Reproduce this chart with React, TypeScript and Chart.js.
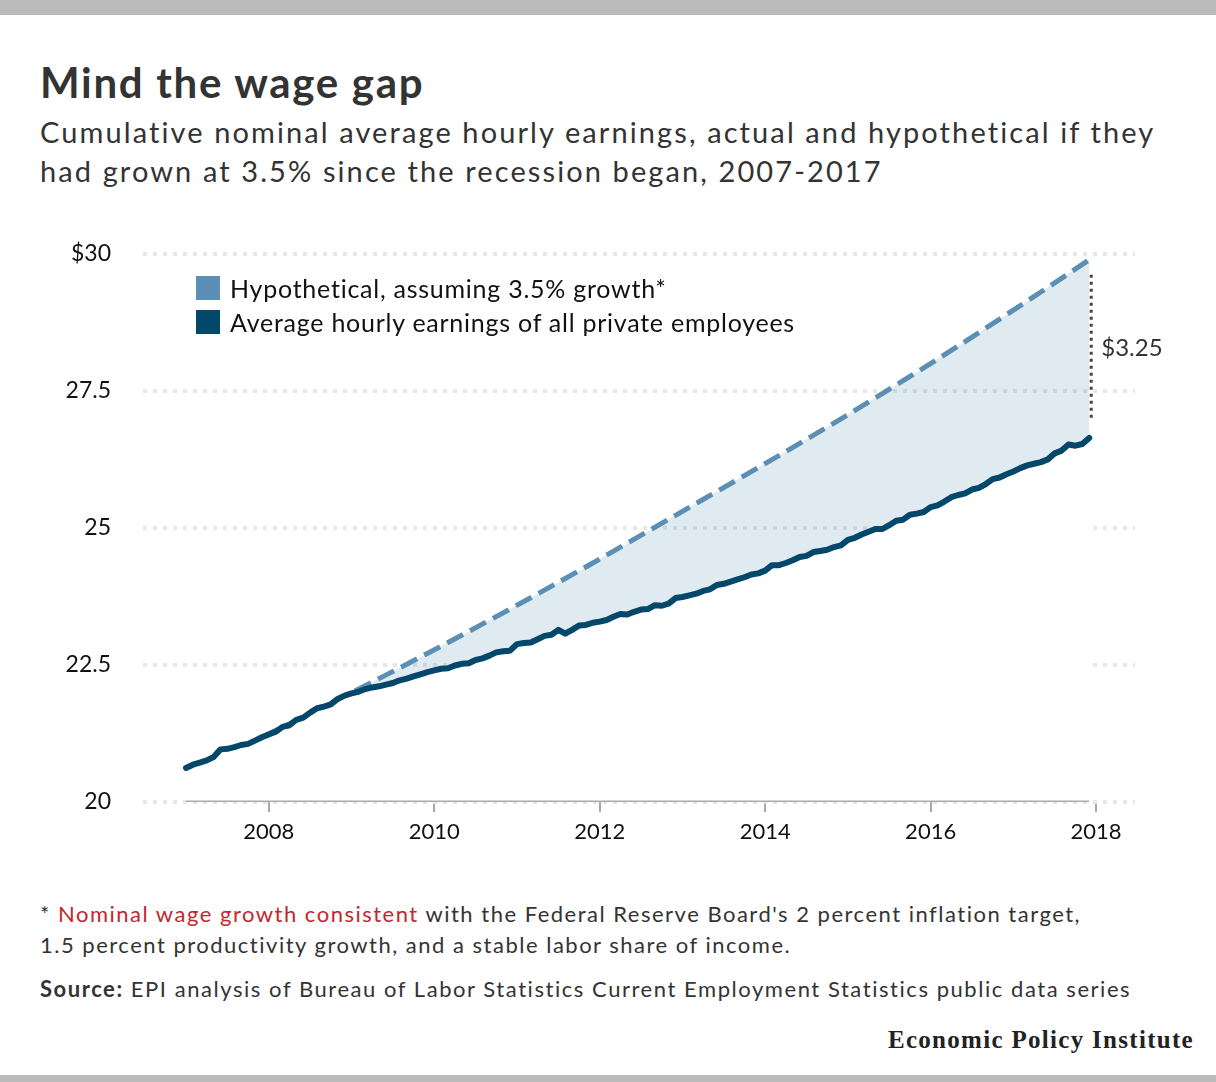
import { useEffect, useRef } from 'react';
import { Chart, registerables } from 'chart.js';

Chart.register(...registerables);

// monthly average hourly earnings, all private employees, Jan 2007 - Dec 2017
const FIRST_YEAR = 2007;
const ACTUAL = [
  20.62, 20.68, 20.72, 20.76, 20.82, 20.96, 20.97, 21.0, 21.04, 21.06, 21.12, 21.18,
  21.23, 21.28, 21.37, 21.4, 21.5, 21.54, 21.63, 21.71, 21.74, 21.78, 21.88, 21.94,
  21.98, 22.01, 22.06, 22.09, 22.11, 22.14, 22.17, 22.22, 22.25, 22.29, 22.33, 22.37,
  22.4, 22.43, 22.44, 22.49, 22.52, 22.53, 22.59, 22.62, 22.67, 22.73, 22.75, 22.76,
  22.88, 22.9, 22.91, 22.97, 23.03, 23.05, 23.14, 23.07, 23.14, 23.22, 23.23, 23.27,
  23.29, 23.32, 23.38, 23.43, 23.42, 23.47, 23.51, 23.52, 23.59, 23.58, 23.62, 23.72,
  23.74, 23.77, 23.8, 23.85, 23.88, 23.96, 23.98, 24.02, 24.06, 24.1, 24.15, 24.17,
  24.22, 24.32, 24.32, 24.36, 24.41, 24.47, 24.49, 24.56, 24.58, 24.6, 24.65, 24.68,
  24.78, 24.82, 24.88, 24.93, 24.98, 24.98, 25.05, 25.13, 25.15, 25.24, 25.26, 25.29,
  25.38, 25.41, 25.48, 25.56, 25.6, 25.63, 25.7, 25.73, 25.8, 25.89, 25.92, 25.98,
  26.03, 26.09, 26.14, 26.17, 26.2, 26.25, 26.36, 26.41, 26.52, 26.5, 26.53, 26.64,
];

// hypothetical 3.5% path, read at each December
const HYPO_YEARS = [2007, 2008, 2009, 2010, 2011, 2012, 2013, 2014, 2015, 2016, 2017];
const HYPOTHETICAL = [21.18, 21.93, 22.71, 23.52, 24.36, 25.23, 26.1, 26.99, 27.92, 28.89, 29.89];

const X_TICKS = [2008, 2010, 2012, 2014, 2016, 2018];
const Y_TICKS = [20, 22.5, 25, 27.5, 30];
const GAP_LABEL = '$3.25';

const FONT = 'Lato, "Noto Sans", sans-serif';
const DARK = '#03476a';
const LIGHT = '#5b8fb6';

const gapPlugin = {
  id: 'gap',
  afterDatasetsDraw(chart: any) {
    const { ctx, scales } = chart;
    const last = ACTUAL.length - 1;
    const x = scales.x.getPixelForValue(FIRST_YEAR + last / 12);
    const yTop = scales.y.getPixelForValue(HYPOTHETICAL[HYPOTHETICAL.length - 1]) + 15;
    const yBot = scales.y.getPixelForValue(ACTUAL[last]) - 17;
    ctx.save();
    ctx.strokeStyle = '#444';
    ctx.lineWidth = 3;
    ctx.setLineDash([3, 4]);
    ctx.beginPath();
    ctx.moveTo(x + 2, yTop);
    ctx.lineTo(x + 2, yBot);
    ctx.stroke();
    ctx.setLineDash([]);
    ctx.fillStyle = '#333';
    ctx.font = `24px ${FONT}`;
    ctx.textBaseline = 'middle';
    ctx.fillText(GAP_LABEL, x + 12, (yTop + yBot) / 2);
    ctx.restore();
  },
};

function WageChart() {
  const canvasRef = useRef<HTMLCanvasElement>(null);
  const chartRef = useRef<Chart | null>(null);

  useEffect(() => {
    const ctx = canvasRef.current!.getContext('2d');
    if (chartRef.current) chartRef.current.destroy();
    const lastX = FIRST_YEAR + (ACTUAL.length - 1) / 12;
    chartRef.current = new Chart(ctx!, {
      type: 'line',
      data: {
        datasets: [
          {
            label: 'Average hourly earnings of all private employees',
            data: ACTUAL.map((y, i) => ({ x: FIRST_YEAR + i / 12, y })),
            borderColor: DARK,
            borderWidth: 6,
            borderCapStyle: 'round',
            borderJoinStyle: 'round',
            pointRadius: 0,
            fill: 'start',
            backgroundColor: '#ffffff',
          },
          {
            label: 'Hypothetical, assuming 3.5% growth*',
            data: HYPO_YEARS.map((yr, i) => ({ x: yr + 11 / 12, y: HYPOTHETICAL[i] })),
            borderColor: LIGHT,
            borderWidth: 5,
            borderDash: [18, 8],
            pointRadius: 0,
            cubicInterpolationMode: 'monotone',
            fill: { target: 0 },
            backgroundColor: 'rgba(91,143,182,0.19)',
          },
          {
            label: 'baseline',
            data: [
              { x: FIRST_YEAR, y: Y_TICKS[0] },
              { x: lastX, y: Y_TICKS[0] },
            ],
            borderColor: '#aaaaaa',
            borderWidth: 3,
            pointRadius: 0,
            fill: false,
            order: -1,
          },
        ],
      },
      options: {
        animation: false,
        responsive: true,
        maintainAspectRatio: false,
        events: [],
        layout: { padding: { top: 0, right: 81, bottom: 0, left: 0 } },
        plugins: { legend: { display: false }, tooltip: { enabled: false } },
        scales: {
          x: {
            type: 'linear',
            min: 2006.48,
            max: 2018.47,
            afterBuildTicks: (scale: any) => {
              scale.ticks = X_TICKS.map((v) => ({ value: v }));
            },
            afterFit: (scale: any) => {
              scale.height = 68;
            },
            grid: {
              drawOnChartArea: false,
              drawTicks: true,
              tickLength: 10,
              color: '#a8a8a8',
              lineWidth: 2,
            },
            border: { display: false },
            ticks: {
              padding: 7,
              color: '#111',
              font: { family: FONT, size: 22 },
              callback: (v: any) => String(v),
              maxRotation: 0,
            },
          },
          y: {
            min: 20,
            max: 30,
            afterBuildTicks: (scale: any) => {
              scale.ticks = Y_TICKS.map((v) => ({ value: v }));
            },
            afterFit: (scale: any) => {
              scale.width = 143;
            },
            grid: { drawTicks: false, color: '#e6e6e6', lineWidth: 4 },
            border: { display: false, dash: [4, 6] },
            ticks: {
              padding: 32,
              color: '#111',
              font: { family: FONT, size: 23 },
              callback: (v: any) => (v === 30 ? '$30' : String(v)),
            },
          },
        },
      },
      plugins: [gapPlugin],
    } as any);
    return () => {
      if (chartRef.current) {
        chartRef.current.destroy();
        chartRef.current = null;
      }
    };
  }, []);

  return (
    <div style={{ position: 'absolute', left: 0, top: 208, width: 1216, height: 662 }}>
      <canvas ref={canvasRef}></canvas>
    </div>
  );
}

const text = (top: number, size: number, lh: number, extra: any = {}) => ({
  position: 'absolute' as const,
  left: 40,
  top,
  fontFamily: FONT,
  fontSize: size,
  lineHeight: `${lh}px`,
  color: '#333',
  margin: 0,
  whiteSpace: 'nowrap' as const,
  ...extra,
});

export default function App() {
  return (
    <div
      style={{
        position: 'absolute',
        left: 0,
        top: 0,
        width: 1216,
        height: 1082,
        background: '#fff',
        overflow: 'hidden',
      }}
    >
      <div style={{ position: 'absolute', left: 0, top: 0, width: 1216, height: 15, background: '#bbb' }} />
      <div style={text(56.75, 42, 50, { fontWeight: 700, letterSpacing: 1.7 })}>Mind the wage gap</div>
      <div style={text(112, 29, 39, { letterSpacing: 2.1 })}>
        Cumulative nominal average hourly earnings, actual and hypothetical if they
        <br />
        had grown at 3.5% since the recession began, 2007-2017
      </div>
      <WageChart />
      <div style={text(271, 25, 34, { left: 196, color: '#111', letterSpacing: 0.75 })}>
        {[
          ['Hypothetical, assuming 3.5% growth*', LIGHT],
          ['Average hourly earnings of all private employees', DARK],
        ].map(([label, color]) => (
          <div key={label} style={{ display: 'flex', alignItems: 'flex-start' }}>
            <span
              style={{ display: 'inline-block', width: 24, height: 24, marginTop: 5, marginRight: 10, background: color }}
            />
            <span>{label}</span>
          </div>
        ))}
      </div>
      <div style={text(897.5, 22, 31.5, { letterSpacing: 1.5 })}>
        * <span style={{ color: '#c4262e' }}>Nominal wage growth consistent</span> with the Federal Reserve
        Board's 2 percent inflation target,
        <br />
        1.5 percent productivity growth, and a stable labor share of income.
      </div>
      <div style={text(971.5, 22, 33, { letterSpacing: 1.55 })}>
        <b>Source:</b> EPI analysis of Bureau of Labor Statistics Current Employment Statistics public data series
      </div>
      <div
        style={text(1024.5, 25, 30, {
          left: 'auto',
          right: 22,
          fontFamily: '"Liberation Serif", "DejaVu Serif", serif',
          fontWeight: 700,
          color: '#222',
          letterSpacing: 1.3,
        })}
      >
        Economic Policy Institute
      </div>
      <div style={{ position: 'absolute', left: 0, top: 1075, width: 1216, height: 7, background: '#bbb' }} />
    </div>
  );
}
